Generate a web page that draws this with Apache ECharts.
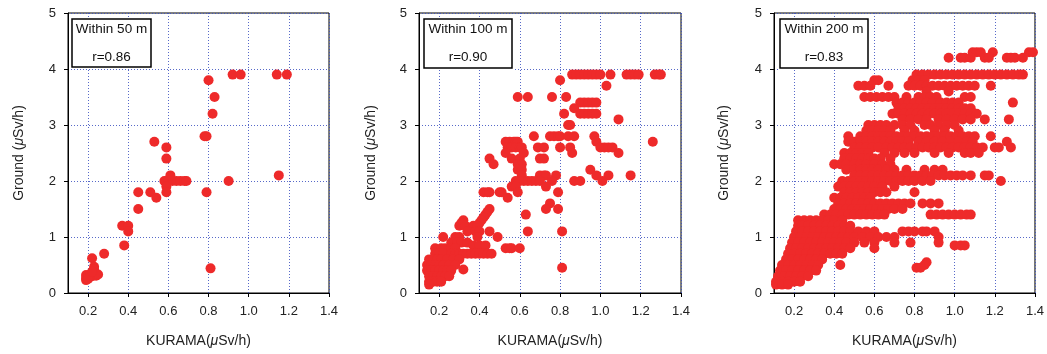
<!DOCTYPE html>
<html><head><meta charset="utf-8">
<script src="https://cdn.jsdelivr.net/npm/echarts@6/dist/echarts.min.js"></script>
<style>html,body{margin:0;padding:0;background:#fff}#c{width:1047px;height:354px}</style>
</head><body><div id="c"></div><script>
// ---- text ----
const panelTitles = ['Within 50 m', 'Within 100 m', 'Within 200 m'];
const rLabels = ['r=0.86', 'r=0.90', 'r=0.83'];
const xTickValues = [0.2, 0.4, 0.6, 0.8, 1.0, 1.2, 1.4];
const yTickValues = [0, 1, 2, 3, 4, 5];

// ---- data (KURAMA x, Ground y) ----
const within50 = [
  [0.80,3.8],[0.92,3.9],[0.96,3.9],[1.14,3.9],[1.19,3.9],[0.83,3.5],[0.82,3.2],
  [0.78,2.8],[0.79,2.8],[0.53,2.7],[0.59,2.6],[0.59,2.4],
  [0.58,2.0],[0.59,2.0],[0.60,2.0],[0.62,2.0],[0.64,2.0],[0.66,2.0],[0.68,2.0],[0.69,2.0],
  [0.61,2.1],[0.59,1.9],[0.59,1.8],[0.79,1.8],[0.90,2.0],[1.15,2.1],
  [0.45,1.8],[0.51,1.8],[0.54,1.7],[0.45,1.5],[0.37,1.2],[0.40,1.2],[0.40,1.1],
  [0.38,0.85],[0.28,0.7],[0.22,0.62],[0.23,0.47],[0.23,0.42],[0.81,0.44],
  [0.19,0.23],[0.19,0.27],[0.19,0.32],[0.20,0.30],[0.21,0.33],[0.22,0.30],
  [0.23,0.35],[0.24,0.31],[0.25,0.33],[0.20,0.25],[0.22,0.38]
];

// rows: [ground value, [KURAMA values]]
const within100Rows = [
  [3.9, [0.86,0.88,0.90,0.92,0.94,0.96,0.98,1.00,1.05,1.13,1.15,1.17,1.19,1.27,1.29,1.30]],
  [3.8, [0.80]],
  [3.7, [1.03]],
  [3.5, [0.59,0.64,0.76,0.83]],
  [3.4, [0.90,0.92,0.94,0.96,0.98]],
  [3.3, [0.87]],
  [3.2, [0.82,0.90,0.92,0.94,0.96,0.98]],
  [3.1, [1.09]],
  [3.0, [0.84,0.85]],
  [2.8, [0.67,0.75,0.77,0.79,0.80,0.84,0.87,0.97]],
  [2.7, [0.53,0.55,0.57,0.58,0.59,0.98,1.26]],
  [2.6, [0.54,0.56,0.58,0.60,0.61,0.69,0.72,0.80,0.85,1.00,1.02,1.04,1.06]],
  [2.5, [0.53,0.62,0.86,1.09]],
  [2.4, [0.45,0.56,0.60,0.70,0.72]],
  [2.3, [0.47,0.59,0.61]],
  [2.2, [0.59,0.61,0.95]],
  [2.1, [0.61,0.70,0.72,0.73,0.78,0.98,1.04,1.15]],
  [2.0, [0.58,0.60,0.62,0.64,0.66,0.68,0.70,0.76,0.87,0.90,1.01]],
  [1.9, [0.56,0.58,0.73]],
  [1.8, [0.42,0.44,0.45,0.50,0.51,0.59,0.79]],
  [1.7, [0.54]],
  [1.6, [0.75]],
  [1.5, [0.45,0.73,0.79]],
  [1.45, [0.44]],
  [1.4, [0.43,0.63]],
  [1.35, [0.42]],
  [1.3, [0.32,0.41]],
  [1.25, [0.31,0.40]],
  [1.2, [0.30,0.33,0.37,0.39]],
  [1.1, [0.34,0.38,0.40,0.45,0.64,0.81]],
  [1.0, [0.22,0.28,0.30,0.39,0.49]],
  [0.9, [0.26,0.29,0.31,0.34]],
  [0.85, [0.37,0.40,0.43]],
  [0.8, [0.18,0.21,0.23,0.26,0.28,0.53,0.55,0.56,0.60]],
  [0.7, [0.18,0.20,0.22,0.26,0.28,0.30,0.32,0.34,0.36,0.38,0.40,0.42,0.44,0.46]],
  [0.6, [0.15,0.17,0.19,0.21,0.24,0.27,0.30]],
  [0.5, [0.14,0.16,0.18,0.20,0.22,0.25,0.28]],
  [0.45, [0.81]],
  [0.42, [0.32]],
  [0.4, [0.14,0.16,0.18,0.20,0.22,0.24,0.26]],
  [0.3, [0.15,0.17,0.19,0.21,0.23,0.25]],
  [0.2, [0.15,0.17,0.19,0.21]],
  [0.15, [0.15]]
];

const within200Rows = [
  [4.3, [1.09,1.11,1.13,1.19,1.37,1.39]],
  [4.2, [0.97,1.03,1.05,1.08,1.15,1.17,1.26,1.28,1.30,1.34]],
  [3.9, [0.81,0.84,0.87,0.90,0.93,0.96,0.99,1.02,1.05,1.08,1.11,1.14,1.17,1.20,1.23,1.26,1.29,1.32,1.34]],
  [3.8, [0.60,0.62,0.79,0.82,0.85]],
  [3.7, [0.52,0.55,0.58,0.67,0.77,0.80,0.83,0.86,0.89,0.92,0.95,0.98,1.01,1.04,1.07,1.10,1.18]],
  [3.6, [0.86,0.97]],
  [3.5, [0.55,0.58,0.61,0.64,0.67,0.70,0.76,0.82,0.85,0.88,0.91,1.05,1.08]],
  [3.4, [0.71,0.74,0.77,0.80,0.83,0.86,0.89,0.93,0.96,0.99,1.02,1.29]],
  [3.3, [0.72,0.75,0.78,0.81,0.84,0.87,0.90,0.93,0.96,0.99,1.02,1.05,1.08]],
  [3.2, [0.69,0.72,0.75,0.78,0.81,0.84,0.87,0.90,0.93,0.96,0.99,1.02,1.05,1.08,1.11]],
  [3.1, [0.74,0.78,0.82,0.86,0.92,0.96,1.00,1.04,1.08,1.15,1.27]],
  [3.0, [0.57,0.60,0.63,0.66,0.70,0.74,0.78,0.85,0.88,0.92,0.96,1.00]],
  [2.9, [0.56,0.59,0.62,0.65,0.68,0.75,0.80,0.90,0.95,1.02]],
  [2.8, [0.47,0.53,0.56,0.59,0.62,0.65,0.68,0.71,0.74,0.77,0.80,0.83,0.86,0.89,0.92,0.95,0.98,1.01,1.04,1.07,1.10,1.18]],
  [2.7, [0.47,0.50,0.53,0.56,0.59,0.62,0.65,0.68,0.71,0.74,0.77,0.82,0.86,0.90,0.94,0.98,1.02,1.06,1.09,1.26]],
  [2.6, [0.50,0.53,0.56,0.59,0.62,0.66,0.69,0.72,0.75,0.78,0.81,0.84,0.87,0.90,0.93,0.96,0.99,1.02,1.05,1.08,1.11,1.14,1.20,1.22,1.28]],
  [2.5, [0.45,0.48,0.51,0.54,0.57,0.65,0.70,0.75,0.80,0.90,0.97,1.05,1.08,1.12]],
  [2.4, [0.45,0.48,0.51,0.54,0.57,0.60,0.63,0.68]],
  [2.3, [0.40,0.43,0.46,0.50,0.53,0.56,0.60,0.64,0.68]],
  [2.2, [0.46,0.50,0.53,0.56,0.59,0.62,0.66,0.70,0.76,0.85,0.90,0.94]],
  [2.1, [0.50,0.53,0.56,0.59,0.62,0.65,0.68,0.71,0.74,0.77,0.80,0.83,0.86,0.89,0.92,0.95,0.98,1.01,1.04,1.08,1.15,1.17]],
  [2.0, [0.44,0.47,0.50,0.53,0.56,0.59,0.62,0.65,0.68,0.71,0.74,0.77,0.80,0.84,0.88,1.23]],
  [1.9, [0.42,0.45,0.48,0.51,0.54,0.57,0.60,0.64,0.70]],
  [1.8, [0.45,0.48,0.51,0.54,0.57,0.60,0.63,0.66,0.80]],
  [1.7, [0.40,0.43,0.46,0.49,0.52,0.55,0.58]],
  [1.6, [0.42,0.45,0.48,0.51,0.54,0.57,0.60,0.63,0.66,0.69,0.72,0.75,0.78,0.84,0.88,0.92]],
  [1.5, [0.40,0.43,0.46,0.49,0.52,0.55,0.58,0.61,0.64,0.67,0.70,0.74]],
  [1.4, [0.35,0.38,0.41,0.44,0.47,0.50,0.53,0.56,0.59,0.62,0.65,0.88,0.91,0.94,0.97,1.00,1.03,1.06,1.08]],
  [1.3, [0.22,0.25,0.28,0.31,0.34,0.37,0.40,0.44]],
  [1.2, [0.22,0.24,0.27,0.30,0.33,0.36,0.39,0.42,0.45,0.48]],
  [1.1, [0.21,0.24,0.27,0.30,0.33,0.36,0.39,0.42,0.45,0.48,0.52,0.56,0.60,0.74,0.77,0.80,0.84,0.86,0.90]],
  [1.0, [0.20,0.23,0.26,0.29,0.32,0.35,0.38,0.41,0.44,0.47,0.50,0.54,0.58,0.62,0.66,0.70,0.92]],
  [0.9, [0.19,0.22,0.25,0.28,0.31,0.34,0.37,0.40,0.43,0.46,0.50,0.55,0.60,0.70,0.78,0.92]],
  [0.85, [1.00,1.03,1.05]],
  [0.8, [0.18,0.21,0.24,0.27,0.30,0.33,0.36,0.39,0.42,0.45,0.48,0.60]],
  [0.7, [0.17,0.20,0.23,0.26,0.29,0.32,0.35,0.38,0.41,0.44]],
  [0.6, [0.16,0.19,0.22,0.25,0.28,0.31,0.34]],
  [0.55, [0.86]],
  [0.5, [0.14,0.17,0.20,0.23,0.26,0.29,0.32,0.43,0.85]],
  [0.45, [0.81,0.83]],
  [0.4, [0.13,0.16,0.19,0.22,0.25,0.28,0.31]],
  [0.3, [0.12,0.15,0.18,0.21,0.24,0.27]],
  [0.2, [0.11,0.14,0.17,0.20,0.23]],
  [0.15, [0.11,0.14,0.17]]
];

function rowsToPairs(rows) {
  const out = [];
  rows.forEach(([y, xs]) => xs.forEach(x => out.push([x, y])));
  return out;
}
const panelData = [within50, rowsToPairs(within100Rows), rowsToPairs(within200Rows)];

// ---- layout ----
const FONT = 'Liberation Sans, Arial, Helvetica, sans-serif';
const gridLefts = [68, 419, 774];
const gridWidths = [261, 262, 261];
const yNameGaps = [42, 41, 43];
const boxRects = [[72, 19, 79, 48], [424, 19, 88, 49], [780, 19, 88, 49]];
const dotColor = '#ee2a2a';
const gridLineStyle = { color: '#3a4fc0', type: [1, 2], width: 1, opacity: 0.85 };

const rich = {
  n: { fontFamily: FONT, fontSize: 14, color: '#222' },
  i: { fontFamily: FONT, fontSize: 14, color: '#222', fontStyle: 'italic' }
};

const grids = [], xAxes = [], yAxes = [], series = [], graphics = [];
for (let p = 0; p < 3; p++) {
  grids.push({ left: gridLefts[p], top: 13, width: gridWidths[p], height: 280,
    show: true, borderColor: '#000', borderWidth: 1, backgroundColor: 'transparent' });
  xAxes.push({
    type: 'value', gridIndex: p, min: 0.1, max: 1.4,
    name: '{n|KURAMA(}{i|μ}{n|Sv/h)}', nameLocation: 'middle', nameGap: 41,
    nameTextStyle: { rich },
    axisLine: { show: true, onZero: false, lineStyle: { color: '#000', width: 1 } },
    axisTick: { show: true, inside: false, length: 4, lineStyle: { color: '#000' }, customValues: xTickValues },
    axisLabel: { customValues: xTickValues, formatter: v => v.toFixed(1), margin: 12,
      fontFamily: FONT, fontSize: 13, color: '#222' },
    splitLine: { show: true, lineStyle: gridLineStyle }
  });
  yAxes.push({
    type: 'value', gridIndex: p, min: 0, max: 5, interval: 1,
    name: '{n|Ground (}{i|μ}{n|Sv/h)}', nameLocation: 'middle', nameGap: yNameGaps[p],
    nameTextStyle: { rich },
    axisLine: { show: true, onZero: false, lineStyle: { color: '#000', width: 1 } },
    axisTick: { show: true, inside: false, length: 4, lineStyle: { color: '#000' } },
    axisLabel: { formatter: v => (yTickValues.includes(v) ? String(v) : ''), margin: 12,
      fontFamily: FONT, fontSize: 13, color: '#222' },
    splitLine: { show: true, lineStyle: gridLineStyle }
  });
  series.push({
    type: 'scatter', xAxisIndex: p, yAxisIndex: p, data: panelData[p],
    symbol: 'circle', symbolSize: 10, itemStyle: { color: dotColor, opacity: 1 },
    silent: true, animation: false, z: 3
  });
  const [bx, by, bw, bh] = boxRects[p];
  graphics.push({ type: 'rect', shape: { x: bx - 2, y: by - 1, width: bw + 4, height: bh + 3 },
    style: { fill: '#fff' }, z: 10 });
  graphics.push({ type: 'rect', shape: { x: bx, y: by, width: bw, height: bh },
    style: { fill: '#fff', stroke: '#000', lineWidth: 1.5 }, z: 11 });
  graphics.push({ type: 'text', x: bx + bw / 2, y: by + 10, z: 12,
    style: { text: panelTitles[p], font: '13.5px ' + FONT, fill: '#111', align: 'center', verticalAlign: 'middle' } });
  graphics.push({ type: 'text', x: bx + bw / 2, y: by + 38, z: 12,
    style: { text: rLabels[p], font: '13.5px ' + FONT, fill: '#111', align: 'center', verticalAlign: 'middle' } });
}

const chart = echarts.init(document.getElementById('c'), null, { renderer: 'canvas' });
chart.setOption({
  animation: false,
  backgroundColor: '#fff',
  grid: grids, xAxis: xAxes, yAxis: yAxes, series, graphic: graphics
});
</script></body></html>
